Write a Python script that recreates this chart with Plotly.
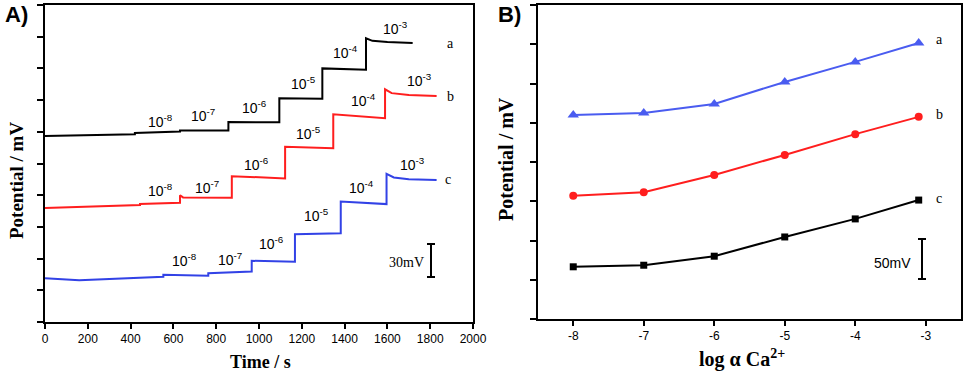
import plotly.graph_objects as go

# ---------------- Data: panel A (time traces) ----------------
t_a = [0, 420, 420, 631, 631, 857, 857, 1095, 1095, 1296, 1296, 1500, 1500, 1530, 1600, 1718]
v_a = [5.87, 5.92, 5.96, 6.01, 6.04, 6.04, 6.31, 6.30, 7.06, 7.04, 8.00, 7.96, 8.95, 8.87, 8.83, 8.80]

t_b = [0, 444, 444, 631, 631, 645, 873, 873, 1122, 1122, 1347, 1347, 1589, 1589, 1620, 1700, 1830]
v_b = [3.60, 3.69, 3.72, 3.76, 4.00, 3.93, 3.92, 4.60, 4.53, 5.53, 5.48, 6.55, 6.43, 7.34, 7.22, 7.16, 7.13]

t_c = [0, 150, 160, 553, 553, 763, 763, 966, 966, 1168, 1168, 1382, 1382, 1596, 1596, 1630, 1700, 1830]
v_c = [1.38, 1.34, 1.32, 1.43, 1.49, 1.46, 1.54, 1.59, 1.93, 1.90, 2.77, 2.80, 3.80, 3.72, 4.67, 4.56, 4.50, 4.48]

step_labels = ["10<sup>-8</sup>", "10<sup>-7</sup>", "10<sup>-6</sup>",
               "10<sup>-5</sup>", "10<sup>-4</sup>", "10<sup>-3</sup>"]
lab_t_a = [541, 738, 981, 1206, 1402, 1640]
lab_v_a = [6.35, 6.53, 6.78, 7.54, 8.52, 9.27]
lab_t_b = [541, 757, 990, 1230, 1487, 1748]
lab_v_b = [4.16, 4.26, 5.00, 5.95, 7.00, 7.63]
lab_t_c = [654, 865, 1060, 1270, 1480, 1715]
lab_v_c = [1.96, 2.00, 2.49, 3.38, 4.26, 5.00]

time_ticks = list(range(0, 2001, 200))

# ---------------- Data: panel B (calibration) ----------------
log_ca = [-8, -7, -6, -5, -4, -3.1]
pot_a = [5.20, 5.25, 5.48, 6.04, 6.55, 7.03]
pot_b = [3.14, 3.23, 3.67, 4.18, 4.71, 5.15]
pot_c = [1.33, 1.37, 1.60, 2.09, 2.55, 3.03]
log_ticks = [-8, -7, -6, -5, -4, -3]
log_tick_text = ["-8", "-7", "-6", "-5", "-4", "-3"]

W, H = 966, 376
BLACK = "#000000"
RED = "#ff1e1e"
BLUE = "#3242e6"
BLUE2 = "#4a5cf0"
SERIF = "Liberation Serif"
SANS = "Liberation Sans"

fig = go.Figure()

line_w = 2
fig.add_trace(go.Scatter(x=t_a, y=v_a, mode="lines", line=dict(color=BLACK, width=line_w), xaxis="x", yaxis="y"))
fig.add_trace(go.Scatter(x=t_b, y=v_b, mode="lines", line=dict(color=RED, width=line_w), xaxis="x", yaxis="y"))
fig.add_trace(go.Scatter(x=t_c, y=v_c, mode="lines", line=dict(color=BLUE, width=line_w), xaxis="x", yaxis="y"))

fig.add_trace(go.Scatter(x=log_ca, y=pot_a, mode="lines+markers", line=dict(color=BLUE2, width=2),
                         marker=dict(symbol="triangle-up", size=10, color=BLUE2), xaxis="x2", yaxis="y2"))
fig.add_trace(go.Scatter(x=log_ca, y=pot_b, mode="lines+markers", line=dict(color=RED, width=2),
                         marker=dict(symbol="circle", size=8, color=RED), xaxis="x2", yaxis="y2"))
fig.add_trace(go.Scatter(x=log_ca, y=pot_c, mode="lines+markers", line=dict(color=BLACK, width=2),
                         marker=dict(symbol="square", size=7, color=BLACK), xaxis="x2", yaxis="y2"))

ann = []
for tl, vl in ((lab_t_a, lab_v_a), (lab_t_b, lab_v_b), (lab_t_c, lab_v_c)):
    for txt, x, y in zip(step_labels, tl, vl):
        ann.append(dict(x=x, y=y, xref="x", yref="y", text=txt, showarrow=False,
                        xanchor="center", yanchor="middle",
                        font=dict(family=SANS, size=14, color=BLACK)))

# curve letters
for txt, x, y in (("a", 1893, 8.80), ("b", 1893, 7.10), ("c", 1883, 4.48)):
    ann.append(dict(x=x, y=y, xref="x", yref="y", text=txt, showarrow=False,
                    xanchor="center", yanchor="middle",
                    font=dict(family=SERIF, size=14, color=BLACK)))
for txt, x, y in (("a", -2.80, 7.13), ("b", -2.81, 5.20), ("c", -2.81, 3.08)):
    ann.append(dict(x=x, y=y, xref="x2", yref="y2", text=txt, showarrow=False,
                    xanchor="center", yanchor="middle",
                    font=dict(family=SERIF, size=14, color=BLACK)))

def px(xp, yp):
    return xp / W, 1 - yp / H

def paper_text(txt, xp, yp, family, size, angle=0):
    x, y = px(xp, yp)
    ann.append(dict(x=x, y=y, xref="paper", yref="paper", text=txt, showarrow=False,
                    xanchor="center", yanchor="middle", textangle=angle,
                    font=dict(family=family, size=size, color=BLACK)))

# panel labels
paper_text("<b>A)</b>", 16, 14, SANS, 22)
paper_text("<b>B)</b>", 509, 15, SANS, 22)

# axis titles
paper_text("<b>Time / s</b>", 260, 362, SERIF, 18)
paper_text("<b>log α Ca<sup>2+</sup></b>", 742, 358, SERIF, 20)
paper_text("<b>Potential / mV</b>", 16, 181, SERIF, 19, -90)
paper_text("<b>Potential / mV</b>", 506, 159, SERIF, 20, -90)

# scale bars
paper_text("30mV", 406, 262, SERIF, 14)
paper_text("50mV", 892, 263, SANS, 14)

shapes = []
def scale_bar(xp, y0p, y1p):
    xs, ys0 = px(xp, y0p)
    _, ys1 = px(xp, y1p)
    hw = 4 / W
    lw = dict(color=BLACK, width=2)
    shapes.append(dict(type="line", xref="paper", yref="paper", x0=xs, x1=xs, y0=ys0, y1=ys1, line=lw))
    shapes.append(dict(type="line", xref="paper", yref="paper", x0=xs - hw, x1=xs + hw, y0=ys0, y1=ys0, line=lw))
    shapes.append(dict(type="line", xref="paper", yref="paper", x0=xs - hw, x1=xs + hw, y0=ys1, y1=ys1, line=lw))

scale_bar(431, 244, 277)
scale_bar(922, 239, 279)

axis_common = dict(showline=True, mirror=True, linecolor=BLACK, linewidth=2, ticks="outside",
                   tickwidth=2, tickcolor=BLACK, showgrid=False, zeroline=False, automargin=False,
                   tickfont=dict(family=SANS, size=12, color=BLACK))

fig.update_layout(
    width=W, height=H,
    margin=dict(l=0, r=0, t=0, b=0),
    paper_bgcolor="white", plot_bgcolor="white",
    showlegend=False,
    xaxis=dict(domain=[45 / W, 473 / W], range=[0, 2000], tickvals=time_ticks, ticklen=5,
               anchor="y", **axis_common),
    yaxis=dict(domain=[1 - 322 / H, 1 - 5 / H], range=[0, 10], dtick=1, tick0=0, ticklen=6,
               showticklabels=False, anchor="x", **axis_common),
    xaxis2=dict(domain=[538 / W, 961 / W], range=[-8.5, -2.5], tickvals=log_ticks,
                ticktext=log_tick_text, ticklen=5, anchor="y2", **axis_common),
    yaxis2=dict(domain=[1 - 319 / H, 1 - 5 / H], range=[0, 8], dtick=1, tick0=0, ticklen=6,
                showticklabels=False, anchor="x2", **axis_common),
    annotations=ann,
    shapes=shapes,
)

fig.write_html("out.html", config={"displayModeBar": False},
               post_script="document.body.style.margin='0';document.body.style.overflow='hidden';")
